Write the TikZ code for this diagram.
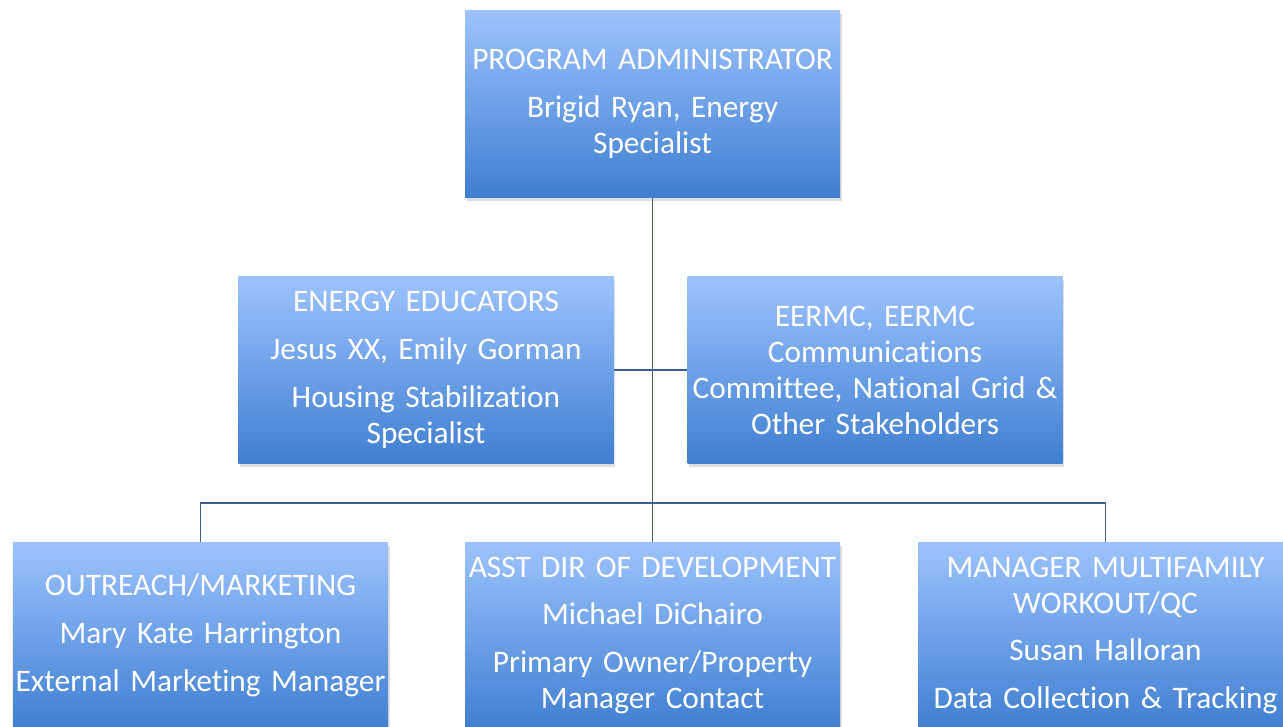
\documentclass[tikz,border=0pt]{standalone}
\usepackage{fontspec}
\setmainfont{Carlito}[Ligatures=NoCommon]
\usetikzlibrary{shadows}
\usetikzlibrary{backgrounds}
\definecolor{ltop}{RGB}{157, 195, 255}
\definecolor{lbot}{RGB}{63, 127, 208}
\definecolor{lline}{RGB}{62, 96, 146}
\tikzset{role/.style = {rectangle, top color=ltop, bottom color=lbot,
                        minimum width=93.75mm, minimum height=46.75mm,
                        text width=93mm, align=center, inner sep=0,
                        text=white, font=\fontsize{22.3}{25.6}\selectfont,
                        drop shadow={shadow xshift=0.4mm, shadow yshift=-0.9mm,
                                     opacity=0.25}}}
\tikzset{link/.style = {lline, line width=1.1pt}}

\begin{document}
\begin{tikzpicture}[x=0.25mm, y=-0.25mm]
      \useasboundingbox (0, 0) rectangle (1283, 726);
      % top of the chart
      \node [role] (admin) at (652.5, 103.5) {PROGRAM ADMINISTRATOR\\[8.5pt]
        Brigid Ryan, Energy\\ Specialist};
      % side boxes
      \node [role] (educ) at (426, 370) {ENERGY EDUCATORS\\[8.5pt]
        Jesus XX, Emily Gorman\\[8.5pt] Housing Stabilization\\ Specialist};
      \node [role] (eermc) at (875, 370) {EERMC, EERMC\\ Communications\\
        Committee, National Grid \&\\ Other Stakeholders};
      % bottom row
      \node [role] (outreach) at (200.5, 635.5) {OUTREACH/MARKETING\\[8.5pt]
        Mary Kate Harrington\\[8.5pt] External Marketing Manager};
      \node [role] (asst) at (652.5, 635.5) {ASST DIR OF DEVELOPMENT\\[8.5pt]
        Michael DiChairo\\[8.5pt] Primary Owner/Property\\ Manager Contact};
      \node [role] (mfam) at (1105.5, 635.5) {MANAGER MULTIFAMILY\\ WORKOUT/QC\\[8.5pt]
        Susan Halloran\\[8.5pt] Data Collection \& Tracking};
      \coordinate (bus) at (652.5, 503);
      \begin{scope}[on background layer]
        \draw [link] (admin.south) -- (asst.north);
        \draw [link] (educ.east) -- (eermc.west);
        \draw [link] (outreach.north) |- (bus) -| (mfam.north);
      \end{scope}
    \end{tikzpicture}
\end{document}
